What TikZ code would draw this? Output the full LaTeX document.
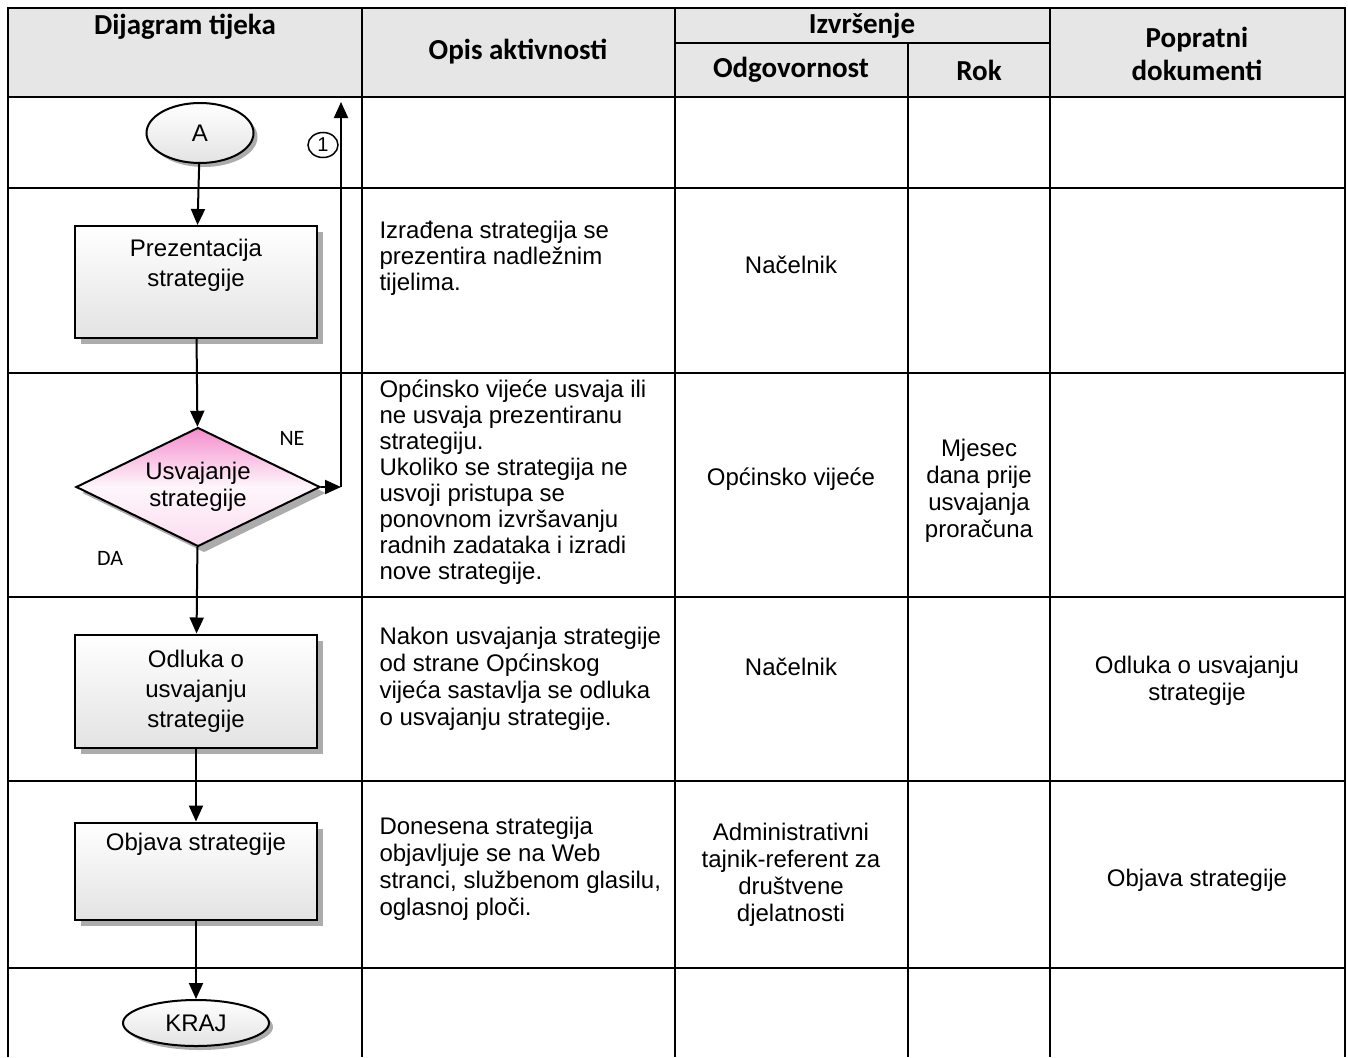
\documentclass[tikz,border=0pt]{standalone}
\usepackage{fontspec}
\setmainfont{Liberation Sans}
\newfontfamily\hdrfont{Carlito}
\usetikzlibrary{shapes.geometric,arrows.meta,shadows}

\definecolor{hdrgray}{RGB}{230,230,230}
\definecolor{decpink}{RGB}{244,140,204}

\tikzset{
    tableline/.style={line width=2.2pt},
    hdrtext/.style={font=\hdrfont\bfseries\fontsize{29}{33}\selectfont, align=center},
    desc/.style={font=\fontsize{24}{26}\selectfont, align=left, anchor=west},
    celltext/.style={font=\fontsize{24}{27}\selectfont, align=center},
    flowshadow/.style={drop shadow={shadow xshift=6pt, shadow yshift=-6pt, fill=gray!65, opacity=1}},
    procbox/.style={draw, line width=2pt, minimum width=242pt, top color=white, bottom color=gray!22,
        flowshadow, font=\fontsize{24}{30}\selectfont, align=center},
    terminal/.style={draw, ellipse, line width=2pt, inner sep=0pt, top color=white, bottom color=gray!22,
        drop shadow={shadow xshift=4pt, shadow yshift=-4pt, fill=gray!65, opacity=1},
        font=\fontsize{24}{27}\selectfont},
    decision/.style={draw, diamond, line width=2pt, aspect=2.05, inner sep=0pt,
        minimum width=244pt, minimum height=119pt,
        top color=decpink, bottom color=decpink!30, middle color=decpink!8,
        flowshadow, font=\fontsize{24}{27}\selectfont, align=center},
    flow/.style={line width=2pt, -{Triangle[length=16pt,width=14pt]}},
    branch/.style={font=\hdrfont\fontsize{22}{24}\selectfont},
}

\begin{document}
\begin{tikzpicture}[x=1pt, y=-1pt]
\useasboundingbox (0,0) rectangle (1348,1057);

% --- Header ---
\fill[hdrgray] (8,8) rectangle (1345,97);
\node[hdrtext] (hflow) at (185,27) {Dijagram tijeka};
\node[hdrtext] (hdesc) at (518,52) {Opis aktivnosti};
\node[hdrtext] (hexec) at (862,26) {Izvršenje};
\node[hdrtext] (hresp) at (791,70) {Odgovornost};
\node[hdrtext] (hterm) at (979,70) {Rok};
\node[hdrtext] (hdocs) at (1197,54) {Popratni\\dokumenti};

% --- Table grid ---
\draw[tableline] (8,1057) -- (8,8) -- (1345,8) -- (1345,1057);
\foreach \x in {362,675,1050} {
    \draw[tableline] (\x,8) -- (\x,1057);
}
\draw[tableline] (908,43) -- (908,1057);
\draw[tableline] (675,43) -- (1050,43);
\foreach \y in {97,188,373,597,781,968} {
    \draw[tableline] (8,\y) -- (1345,\y);
}

% --- Flow chart ---
\node[terminal, minimum width=107pt, minimum height=60pt] (start) at (200,133) {A};
\node[procbox, minimum height=112pt] (present) at (196,282) {Prezentacija\\strategije\\\strut};
\node[decision] (adopt) at (198,487) {Usvajanje\\strategije};
\node[procbox, minimum height=113pt] (decide) at (196,691) {Odluka o\\usvajanju\\strategije};
\node[procbox, minimum height=97pt] (publish) at (196,871) {Objava strategije\\[20pt]\strut};
\node[terminal, minimum width=146pt, minimum height=46pt] (finish) at (196,1023) {KRAJ};

\draw[flow] (start) -- (present);
\draw[flow] (present) -- (adopt);
\draw[flow] (adopt) -- (decide);
\draw[flow] (decide) -- (publish);
\draw[flow] (publish) -- (finish);

% --- Return loop (NE) ---
\coordinate (turn) at (341,487);
\coordinate (back) at (341,102);
\draw[flow] (adopt.east) -- (turn);
\draw[flow] (turn) -- (back);
\node[draw, ellipse, line width=1.5pt, inner sep=0pt, minimum width=30pt, minimum height=25pt,
      font=\fontsize{20}{22}\selectfont] (link) at (323,145) {1};
\node[branch] (no) at (292,438) {NE};
\node[branch] (yes) at (110,558) {DA};

% --- Opis aktivnosti ---
\node[desc] (d1) at (376,258) {Izrađena strategija se\\prezentira nadležnim\\tijelima.};
\node[desc] (d2) at (376,482) {Općinsko vijeće usvaja ili\\ne usvaja prezentiranu\\strategiju.\\Ukoliko se strategija ne\\usvoji pristupa se\\ponovnom izvršavanju\\radnih zadataka i izradi\\nove strategije.};
\node[desc, font=\fontsize{24}{27}\selectfont] (d3) at (376,679) {Nakon usvajanja strategije\\od strane Općinskog\\vijeća sastavlja se odluka\\o usvajanju strategije.};
\node[desc, font=\fontsize{24}{27}\selectfont] (d4) at (376,869) {Donesena strategija\\objavljuje se na Web\\stranci, službenom glasilu,\\oglasnoj ploči.};

% --- Odgovornost / Rok / Popratni dokumenti ---
\node[celltext] (r1) at (791,265) {Načelnik};
\node[celltext] (r2) at (791,479) {Općinsko vijeće};
\node[celltext] (t2) at (979,491) {Mjesec\\dana prije\\usvajanja\\proračuna};
\node[celltext] (r3) at (791,667) {Načelnik};
\node[celltext] (p3) at (1197,681) {Odluka o usvajanju\\strategije};
\node[celltext] (r4) at (791,875) {Administrativni\\tajnik-referent za\\društvene\\djelatnosti};
\node[celltext] (p4) at (1197,880) {Objava strategije};

\end{tikzpicture}
\end{document}
